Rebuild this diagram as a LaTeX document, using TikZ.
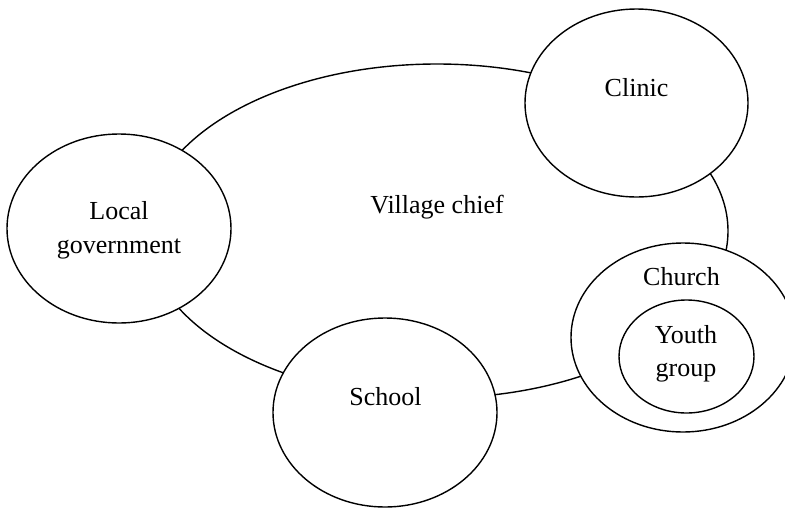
\documentclass[tikz,border=0pt]{standalone}
\usepackage{fontspec}
\setmainfont{Liberation Serif}
\usetikzlibrary{shapes.geometric}
\tikzset{
  region/.style 2 args={ellipse, draw, line width=1.4pt, fill=white, inner sep=0pt, outer sep=0pt, minimum width=#1pt, minimum height=#2pt},
  lbl/.style={font=\fontsize{26}{33.5}\selectfont, align=center, inner sep=0pt}
}
\begin{document}
\begin{tikzpicture}[x=1pt,y=-1pt]
\useasboundingbox (0,0) rectangle (785,507);
\clip (0,0) rectangle (785,507);
% main region
\node[region={582}{334}] (vc) at (437,231) {};
% overlapping regions
\node[region={224}{189}] (lg) at (119,228.5) {};
\node[region={223}{188}] (cl) at (636.5,103) {};
\node[region={224}{189}] (sc) at (385,412.5) {};
\node[region={224}{189}] (ch) at (683,337.5) {};
\node[region={135}{113}] (yg) at (686.5,356.5) {};
% labels
\node[lbl, anchor=base] (vct) at (437,213) {Village chief};
\node[lbl, anchor=base] (clt) at (636.5,96) {Clinic};
\node[lbl, anchor=base] (sct) at (385.5,405) {School};
\node[lbl, anchor=base] (cht) at (681.5,285) {Church};
\node[lbl] (lgt) at (119,230.4) {Local\\government};
\node[lbl] (ygt) at (686,354) {Youth\\group};
\end{tikzpicture}
\end{document}
